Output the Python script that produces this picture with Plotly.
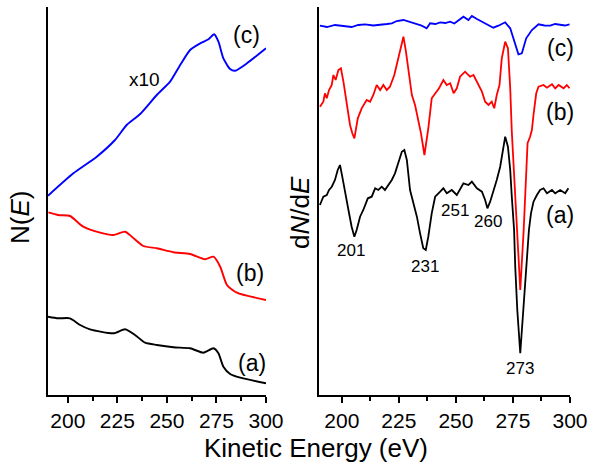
import plotly.graph_objects as go

# ---------------- Left panel: N(E) (arbitrary units) ----------------
ne_a_x = [190, 195.2, 201.1, 206.2, 211.2, 223, 228.9, 233.9, 239, 244.9, 253.3, 261.7, 268.4, 273.5, 276, 278.5, 281.9, 287, 300]
ne_a_y = [78.3, 76.7, 76.7, 70, 65.7, 61.7, 65.7, 60, 52.3, 50, 47.7, 46.7, 42.3, 46.7, 41.7, 28.3, 21, 17.3, 11.7]

ne_b_x = [190.2, 195.2, 201.1, 207.8, 216.3, 223, 228.9, 232.3, 238.1, 244.9, 253.3, 261.7, 269.3, 273.5, 276.9, 280.3, 285.3, 300]
ne_b_y = [182.7, 180, 179, 168.3, 162.3, 160, 163.3, 158.3, 149, 146.7, 142.7, 141, 135.7, 138.3, 128.3, 110, 102.3, 95]

ne_c_x = [190, 202.8, 214.6, 223.8, 229.7, 236.5, 244.9, 251.6, 256.7, 261.7, 266.8, 271, 273.8, 276, 278.5, 281.9, 284.4, 290.4, 300]
ne_c_y = [199.3, 221.7, 238.3, 255, 270, 281, 300, 313.3, 330, 345, 351.7, 355.7, 360.7, 353.3, 336.7, 326, 324.3, 331.7, 346.7]

# ---------------- Right panel: dN/dE (arbitrary units) ----------------
de_a_x = [190.4, 191.9, 193.4, 194.4, 195.6, 197.0, 198.2, 199.2, 200.2, 201.4, 202.9, 204.3, 205.5, 206.5, 208.0, 209.4,
          211.4, 213.1, 214.6, 216.0, 217.5, 218.9, 220.4, 221.9, 223.3, 224.8, 226.3, 227.4, 228.5, 229.9, 231.4, 232.9,
          234.3, 235.7, 236.8, 237.9, 239.4, 240.9, 243.1, 244.5, 246.0, 248.2, 250.4, 251.8, 253.3, 255.5, 257.0, 259.2,
          261.4, 262.8, 263.8, 265.0, 266.4, 267.9, 269.4, 270.6, 271.6, 272.8, 273.8, 274.5, 275.5, 276.0, 276.9, 278.2,
          279.5, 281.1, 282.0, 282.9, 284.0, 285.5, 286.9, 288.4, 289.9, 292.1, 293.5, 295.7, 297.9, 299.3]
de_a_y = [190, 198.3, 200, 205, 208.3, 215, 225, 230, 218.3, 205, 185, 168.3, 158.3, 165, 178.3, 185,
          196.7, 198.3, 206.7, 205, 208.3, 205, 210, 215, 221.7, 231.7, 243.3, 245, 235, 205, 191.7, 178.3,
          161.7, 146.7, 145, 158.3, 181.7, 198.3, 203.3, 206.7, 201.7, 205, 200, 205, 211.7, 210, 213.3, 206.7,
          203.3, 195, 186.7, 193.3, 203.3, 215, 228.3, 245, 258.3, 248.3, 225, 198.3, 165, 128.3, 85, 41.7,
          85, 128.3, 165, 181.7, 193.3, 200, 205, 206.7, 201.7, 205, 201.7, 205, 201.7, 206.7]

de_b_x = [190.4, 191.9, 192.6, 193.4, 194.4, 195.6, 196.3, 197.3, 198.5, 199.6, 200.7, 202.1, 203.6, 204.6, 205.5, 207.0,
          208.7, 210.9, 212.4, 213.8, 215.3, 216.8, 218.2, 219.7, 221.1, 223.0, 224.1, 225.1, 226.0, 227.0, 228.0, 229.2,
          230.7, 232.1, 233.6, 234.7, 236.2, 237.9, 239.4, 240.9, 242.6, 244.5, 246.0, 247.5, 249.0, 250.4, 251.8, 254.0,
          256.2, 257.7, 259.9, 261.4, 262.8, 264.3, 265.7, 266.8, 267.9, 269.1, 270.1, 271.6, 272.8, 273.8, 274.5, 276.0,
          278.2, 279.7, 280.4, 280.8, 281.4, 282.5, 283.3, 284.0, 285.2, 286.2, 288.4, 289.9, 292.1, 293.5, 295.0, 297.2,
          298.6, 299.8]
de_b_y = [288.3, 293.3, 301.7, 296.7, 305, 310, 320, 315, 325, 326.7, 313.3, 290, 270, 261.7, 256.7, 276.7,
          286.7, 295, 293.3, 300, 310, 305, 310, 305, 308.3, 320, 330, 340, 350, 358.3, 345, 326.7,
          300, 290, 275, 261.7, 240, 266.7, 296.7, 301.7, 306.7, 315, 310, 311.7, 301.7, 306.7, 318.3, 323.3,
          318.3, 320, 310, 303.3, 293.3, 290, 293.3, 286.7, 300, 310, 336.7, 353.3, 346.7, 306.7, 263.3, 195,
          105, 165, 195, 225, 251.7, 258.3, 265, 280, 301.7, 308.3, 310, 307.3, 310.7, 306.7, 310, 306.7,
          310, 306.7]

de_c_x = [190.4, 193.5, 197.0, 200.5, 204.3, 207.2, 210.2, 213.8, 217.5, 219.8, 221.9, 224.1, 227.0, 229.2, 232.1, 235.0,
          237.2, 238.7, 241.0, 243.1, 245.3, 247.5, 249.3, 251.1, 253.3, 255.5, 257.0, 259.2, 262.1, 264.3, 266.4, 268.6,
          271.6, 273.8, 275.5, 277.4, 278.9, 280.8, 283.3, 286.2, 288.8, 291.3, 293.5, 295.7, 297.8, 299.8]
de_c_y = [369.3, 368, 370, 369, 368, 370, 370.7, 369.5, 370, 371, 371.7, 374, 375, 373.3, 371.7, 369.3,
          366.7, 371.7, 371, 372.7, 372, 373.3, 371.5, 375, 378.3, 375, 379, 376, 372.7, 370, 367.3, 369.3,
          372.7, 366.7, 353.3, 340.7, 341.7, 356.7, 365, 370.7, 369.5, 369.3, 371, 370, 369.5, 370.7]

BLACK, RED, BLUE = "#000000", "#ff0000", "#0000ff"
FONT = "Liberation Sans, Arial, sans-serif"

fig = go.Figure()
for xs, ys, c in [(ne_a_x, ne_a_y, BLACK), (ne_b_x, ne_b_y, RED), (ne_c_x, ne_c_y, BLUE)]:
    fig.add_trace(go.Scatter(x=xs, y=ys, mode="lines", line=dict(color=c, width=1.9, shape="spline", smoothing=0.6),
                             xaxis="x", yaxis="y", showlegend=False))
for xs, ys, c in [(de_a_x, de_a_y, BLACK), (de_b_x, de_b_y, RED), (de_c_x, de_c_y, BLUE)]:
    fig.add_trace(go.Scatter(x=xs, y=ys, mode="lines", line=dict(color=c, width=1.8),
                             xaxis="x2", yaxis="y2", showlegend=False))

xax = dict(range=[190, 300], tickvals=[200, 225, 250, 275, 300], ticks="outside", ticklen=6, tickwidth=1.8,
           tickcolor="black", showline=True, linecolor="black", linewidth=2, showgrid=False, zeroline=False,
           automargin=False, tickfont=dict(family=FONT, size=21, color="black"),
           minor=dict(tickvals=[212.5, 237.5, 262.5, 287.5], ticks="outside", ticklen=3.5, tickwidth=1.8, tickcolor="black"))
yax = dict(range=[0, 388], showline=True, linecolor="black", linewidth=2, showticklabels=False, ticks="",
           showgrid=False, zeroline=False, automargin=False, domain=[71 / 466, 459 / 466])

fig.update_layout(
    width=589, height=466,
    margin=dict(l=0, r=0, t=0, b=0, autoexpand=False),
    paper_bgcolor="white", plot_bgcolor="white",
    xaxis=dict(xax, domain=[48 / 589, 266 / 589], anchor="y"),
    yaxis=dict(yax, anchor="x"),
    xaxis2=dict(xax, domain=[319 / 589, 570 / 589], anchor="y2"),
    yaxis2=dict(yax, anchor="x2"),
)

def ann(text, x, y, xref, yref, size, **kw):
    fig.add_annotation(text=text, x=x, y=y, xref=xref, yref=yref, showarrow=False,
                       xanchor="center", yanchor="middle",
                       font=dict(family=FONT, size=size, color="black"), **kw)

# curve labels, left
ann("(c)", 290.4, 360, "x", "y", 23)
ann("x10", 238.5, 315, "x", "y", 19)
ann("(b)", 292, 122, "x", "y", 23)
ann("(a)", 292.9, 32, "x", "y", 23)
# curve labels, right
ann("(c)", 295.7, 346.7, "x2", "y2", 23)
ann("(b)", 295.7, 283.3, "x2", "y2", 23)
ann("(a)", 295.7, 180, "x2", "y2", 23)
ann("201", 204.2, 145, "x2", "y2", 17)
ann("231", 236.5, 128.3, "x2", "y2", 17)
ann("251", 249.6, 185, "x2", "y2", 17)
ann("260", 264.1, 173.3, "x2", "y2", 17)
ann("273", 278.2, 27, "x2", "y2", 17)
# axis titles
ann("N(<i>E</i>)", 20 / 589, 1 - 218 / 466, "paper", "paper", 26, textangle=-90)
ann("d<i>N</i>/d<i>E</i>", 300 / 589, 1 - 213 / 466, "paper", "paper", 26, textangle=-90)
ann("Kinetic Energy (eV)", 315.5 / 589, 1 - 448 / 466, "paper", "paper", 26)

fig.write_html("out.html", config={"displayModeBar": False},
               post_script="document.body.style.margin='0px';document.body.style.overflow='hidden';")
